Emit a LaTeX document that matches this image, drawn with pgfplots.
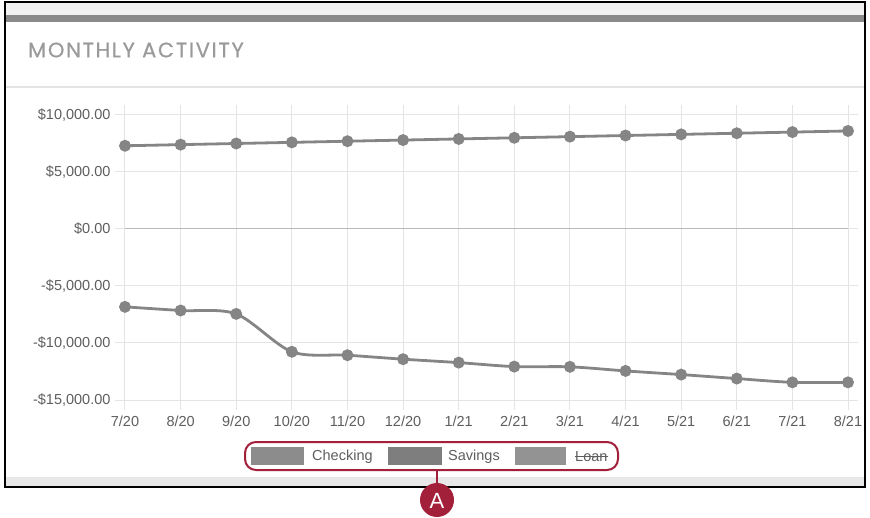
\documentclass[border=0pt]{standalone}
\usepackage{fontspec}
\setmainfont{Liberation Sans}
\newfontfamily\titlefont[LetterSpace=8,FakeBold=0.6]{Poppins}
\usepackage{pgfplots}
\pgfplotsset{compat=1.18}
\definecolor{linegray}{HTML}{858585}
\definecolor{gridgray}{HTML}{E4E4E4}
\definecolor{ticktext}{HTML}{5E5E5E}
\definecolor{titlegray}{HTML}{9A9A9A}
\definecolor{barkgray}{HTML}{8A8A8A}
\definecolor{callred}{HTML}{A3203A}
\definecolor{boxA}{HTML}{8C8C8C}
\definecolor{boxB}{HTML}{7E7E7E}
\definecolor{boxC}{HTML}{939393}
\begin{document}
\begin{tikzpicture}
\path[use as bounding box] (0pt,0pt) rectangle (870pt,517pt);
\begin{scope}[x=1pt,y=-1pt,shift={(0pt,517pt)}]
\fill[gray!10] (5,2) rectangle (865,15);
\fill[barkgray] (5,15) rectangle (865,22);
\draw[gridgray, line width=2pt] (5,87) -- (865,87);
\fill[gray!18] (5,477) rectangle (865,487);
\draw[black, line width=1.2pt] (5,2) rectangle (865,487);
\node[anchor=west, text=titlegray, inner sep=0pt, font=\titlefont\fontsize{21}{23}\selectfont] at (28,50) {MONTHLY ACTIVITY};
% legend
\draw[callred, line width=2pt, rounded corners=11pt] (245,442) rectangle (618,470);
\fill[boxA] (251,447) rectangle (304,465);
\node[anchor=west, text=ticktext, inner sep=0pt, font=\fontsize{14.5}{16}\selectfont] at (312,456.5) {Checking};
\fill[boxB] (388,447) rectangle (442,465);
\node[anchor=west, text=ticktext, inner sep=0pt, font=\fontsize{14.5}{16}\selectfont] at (448,456.5) {Savings};
\fill[boxC] (515,447) rectangle (566,465);
\node[anchor=west, text=ticktext, inner sep=0pt, font=\fontsize{14.5}{16}\selectfont] (loan) at (575,456.5) {Loan};
\draw[ticktext, line width=1pt] (loan.west) -- (loan.east);
% callout
\draw[callred, line width=2pt] (437,470) -- (437,484);
\fill[callred] (437,500) circle (17);
\node[text=white, font=\fontsize{22}{24}\selectfont] at (437,501) {A};
\end{scope}
\begin{axis}[
  at={(125pt,117pt)}, anchor=south west,
  width=723pt, height=285pt, scale only axis,
  xmin=0, xmax=13, ymin=-15000, ymax=10000,
  xtick={0,...,13},
  xticklabels={7/20,8/20,9/20,10/20,11/20,12/20,1/21,2/21,3/21,4/21,5/21,6/21,7/21,8/21},
  ytick={-15000,-10000,-5000,0,5000,10000},
  yticklabels={{-\$15,000.00},{-\$10,000.00},{-\$5,000.00},{\$0.00},{\$5,000.00},{\$10,000.00}},
  scaled y ticks=false,
  tick align=outside, major tick length=10pt,
  tick style={gridgray, line width=1pt},
  grid=major, major grid style={gridgray, line width=1pt},
  axis line style={gridgray, line width=1pt},
  ticklabel style={text=ticktext, font=\fontsize{14.5}{16}\selectfont},
  xticklabel style={yshift=-2pt},
  yticklabel style={xshift=-1pt},
  clip=false,
]
\draw[gray!55, line width=1pt] (axis cs:0,0) -- (axis cs:13,0);
\addplot[linegray, line width=2.8pt, smooth, tension=0.5, mark=*, mark size=4.5pt, mark options={solid, fill=linegray, draw=none}] coordinates {
(0,7300) (1,7400) (2,7500) (3,7600) (4,7700) (5,7800) (6,7900) (7,8000) (8,8100) (9,8200) (10,8300) (11,8400) (12,8500) (13,8600)};
\addplot[linegray, line width=2.8pt, smooth, tension=0.5, mark=*, mark size=4.5pt, mark options={solid, fill=linegray, draw=none}] coordinates {
(0,-6830) (1,-7150) (2,-7450) (3,-10770) (4,-11070) (5,-11420) (6,-11720) (7,-12070) (8,-12090) (9,-12450) (10,-12770) (11,-13120) (12,-13450) (13,-13450)};
\end{axis}
\end{tikzpicture}
\end{document}
